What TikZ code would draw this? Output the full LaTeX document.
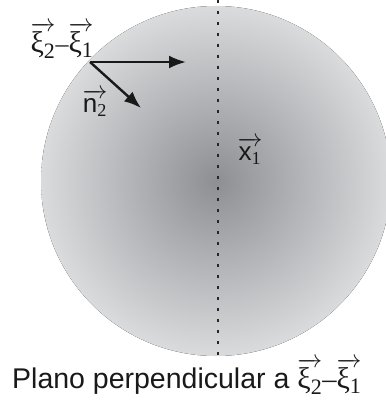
\documentclass[tikz,border=0pt]{standalone}
\usepackage{amsmath}
\usepackage{fontspec}
\setmainfont{Liberation Sans}
\newfontfamily\xifont{Liberation Serif}
\usepackage{tikz}
\usetikzlibrary{positioning}
\usetikzlibrary{arrows.meta}
\definecolor{discin}{RGB}{142,143,147}
\definecolor{discout}{RGB}{218,219,221}
\newcommand{\vxi}[1]{$\overrightarrow{\hbox{\xifont\fontsize{30}{32}\selectfont ξ\textsubscript{\fontsize{22}{24}\selectfont #1}}}$}
\newcommand{\vsans}[2]{$\overrightarrow{\hbox{#1\textsubscript{\xifont #2}}}$}
\tikzset{
disc/.style={shading=radial, inner color=discin, outer color=discout},
axis_line/.style={line width=1.5pt, black!85, dash pattern=on 3pt off 8pt},
vec_arrow/.style={-{Latex[length=17pt,width=13pt]}, line width=2.4pt, black!90},
vec_label/.style={inner sep=0pt, text=black!90, font=\fontsize{26}{28}\selectfont},
caption/.style={inner sep=0pt, text=black!90, font=\fontsize{28.5}{32}\selectfont}
}
\begin{document}
\begin{tikzpicture}[x=1pt, y=-1pt]
    \useasboundingbox (0,0) rectangle (385,403);
    \fill[disc] (216,181) circle (175pt);
    \draw[axis_line] (218,0) -- (218,357);
    \coordinate (origin) at (90,62);
    \coordinate[right=96pt of origin] (dir_tip);
    \coordinate[below right=46pt and 51pt of origin] (normal_tip);
    \draw[vec_arrow] (origin) -- (dir_tip);
    \draw[vec_arrow] (origin) -- (normal_tip);
    \node[vec_label] (diff_label) at (62,40) {\vxi{2}{\xifont –}\vxi{1}};
    \node[vec_label] (normal_label) at (95,103) {\vsans{n}{2}};
    \node[vec_label] (point_label) at (250,151) {\vsans{x}{1}};
    \node[caption, anchor=base west] (plane_caption) at (12,388) {Plano perpendicular a \vxi{2}{\xifont –}\vxi{1}};
\end{tikzpicture}
\end{document}
